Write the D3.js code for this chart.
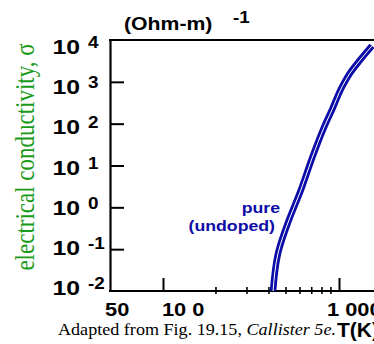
<!DOCTYPE html>
<html><head><meta charset="utf-8">
<script src="https://cdn.jsdelivr.net/npm/d3@7"></script>
<style>
html,body{margin:0;padding:0;background:#fff;}
svg{display:block;}
</style></head>
<body><svg id="c" width="374" height="344"></svg>
<script>
// ---- data ----
const temperatureK = [422, 451, 520, 601, 703, 833, 912, 1041, 1155, 1316, 1540];
const conductivity = [0.01, 0.081, 0.50, 2.3, 15, 93, 214, 760, 1620, 3300, 7240];
const yTickExponents = [4, 3, 2, 1, 0, -1, -2];
const xMajorTicks = [50, 100, 1000];
const xMajorLabels = ["50", "10 0", "1 000"];
const xMinorTicks = [200, 300, 400, 500, 600, 700, 800, 900];
const seriesLabel = ["pure", "(undoped)"];

const svg = d3.select("#c");
const sans = "'Liberation Sans', Arial, sans-serif";
const serif = "'Liberation Serif', 'Times New Roman', serif";
const blue = "#0c0ca8";
const SX = 1.18; // horizontal stretch of the original picture

function txt(xp, yp, s, opts) {
  const o = Object.assign({size: 16, family: sans, weight: "bold", anchor: "start", fill: "#000", sx: SX}, opts || {});
  const gg = svg.append("g").attr("transform", `translate(${xp},${yp}) scale(${o.sx},1)`);
  const t = gg.append("text").attr("x", 0).attr("y", 0).attr("text-anchor", o.anchor)
    .attr("font-family", o.family).attr("font-weight", o.weight).attr("font-size", o.size).attr("fill", o.fill);
  if (s !== null) t.text(s);
  return t;
}

const x = d3.scaleLog().domain([50, 1000]).range([110, 339]);
const y = d3.scaleLog().domain([1e-2, 1e4]).range([291, 40]);
const xRight = 374;

const g = svg.append("g");
const leftAxis = d3.axisLeft(y).tickValues(yTickExponents.filter(e => e < 4 && e > -2).map(e => Math.pow(10, e)))
  .tickSizeInner(-14).tickSizeOuter(0).tickFormat("");
const la = g.append("g").attr("transform", `translate(${x(50)},0)`).call(leftAxis);
la.selectAll("line").attr("stroke", "#000").attr("stroke-width", 2);
la.select(".domain").attr("stroke", "#000").attr("stroke-width", 2.2);

const bottomAxis = d3.axisBottom(x).tickValues([100, 1000]).tickSizeInner(-13).tickSizeOuter(0).tickFormat("");
const ba = g.append("g").attr("transform", `translate(0,${y(1e-2)})`).call(bottomAxis);
ba.select(".domain").remove();
ba.selectAll("line").attr("stroke", "#000").attr("stroke-width", 2);
g.append("line").attr("x1", x(50) - 1).attr("x2", xRight).attr("y1", y(1e-2)).attr("y2", y(1e-2))
  .attr("stroke", "#000").attr("stroke-width", 2.2);
g.selectAll(".minor").data(xMinorTicks).enter().append("line")
  .attr("x1", d => x(d)).attr("x2", d => x(d))
  .attr("y1", y(1e-2) - 4).attr("y2", y(1e-2) + 3)
  .attr("stroke", "#000").attr("stroke-width", 1.6);
g.append("line").attr("x1", x(50) - 1).attr("x2", xRight).attr("y1", y(1e4)).attr("y2", y(1e4))
  .attr("stroke", "#000").attr("stroke-width", 2.2);

// y tick labels
yTickExponents.forEach(e => {
  const yy = y(Math.pow(10, e));
  const off = 4 + (e + 2) * 10 / 6;
  txt(80, yy + off, "10", {size: 21, anchor: "end"});
  txt(88, yy + off - 6, String(e), {size: 16});
});

// x tick labels
const xLabelDx = [-5, -1, -12];
xMajorTicks.forEach((t, i) => {
  txt(x(t) + xLabelDx[i], 316, xMajorLabels[i], {size: 18.5});
});

// units
txt(124, 30, "(Ohm-m)", {size: 18});
txt(233, 23, "-1", {size: 16});

// y title
svg.append("text").attr("transform", "translate(34,157) scale(1.15,1) rotate(-90)").attr("text-anchor", "middle")
  .attr("font-family", serif).attr("font-size", 23).attr("fill", "#1a9a1a")
  .text("electrical conductivity, σ");

// caption, fitted between x=58 and x=336
const cap = txt(58, 335, null, {size: 16, family: serif, weight: "normal", sx: 1});
cap.append("tspan").text("Adapted from Fig. 19.15, ");
cap.append("tspan").attr("font-style", "italic").text("Callister 5e.");
const capW = cap.node().getComputedTextLength();
d3.select(cap.node().parentNode).attr("transform", `translate(58,335) scale(${278 / capW},1)`);
txt(337, 337, "T(K)", {size: 21, sx: 1});

// curve
const pts = temperatureK.map((t, i) => [x(t), y(conductivity[i])]);
const line = d3.line().curve(d3.curveMonotoneY);
svg.append("path").attr("d", line(pts)).attr("fill", "none").attr("stroke", blue).attr("stroke-width", 6.5);
svg.append("path").attr("d", line(pts)).attr("fill", "none").attr("stroke", "#fff").attr("stroke-width", 1);

// series label
txt(280, 213, seriesLabel[0], {size: 15, anchor: "end", fill: blue});
txt(275, 231, seriesLabel[1], {size: 15, anchor: "end", fill: blue});
</script></body></html>
